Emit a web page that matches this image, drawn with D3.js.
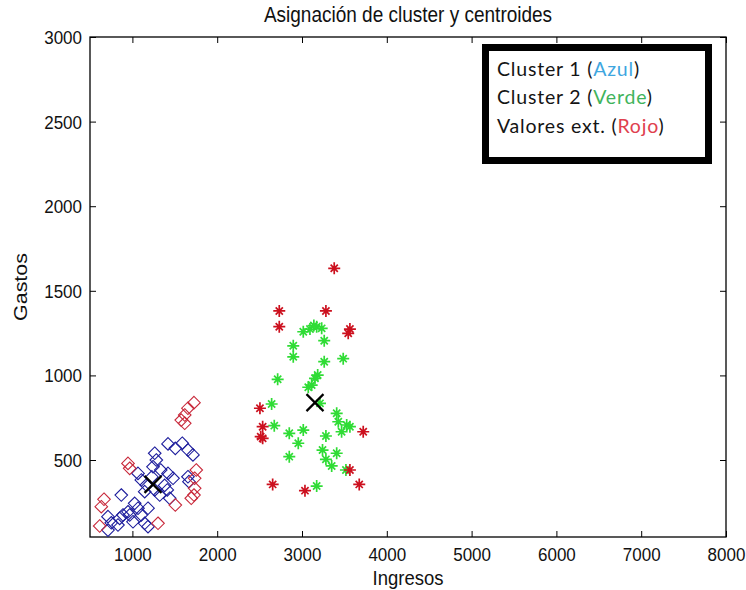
<!DOCTYPE html>
<html>
<head>
<meta charset="utf-8">
<script src="https://cdn.jsdelivr.net/npm/d3@7"></script>
<style>
  body { margin: 0; background: #fff; }
  svg { display: block; }
</style>
</head>
<body>
<script>
// Cluster 1 (blue diamonds)
const c1X = [1420, 1506, 1588, 1655, 1714, 1263, 1282, 1243, 1334, 1420, 1479, 1655, 1667, 1066, 1105, 1164, 1145, 1263, 1322, 1411, 1440, 869, 1027, 1066, 1184, 948, 968, 889, 850, 712, 751, 830, 712, 1145, 1184, 1007, 1105, 1380, 1230];
const c1Y = [595, 569, 599, 559, 530, 540, 500, 460, 441, 421, 392, 401, 372, 421, 382, 352, 313, 323, 293, 323, 274, 293, 244, 215, 215, 194, 175, 175, 155, 165, 129, 116, 86, 126, 106, 135, 175, 350, 400];
// Cluster 1 outliers (red diamonds)
const o1X = [1726, 1655, 1617, 1576, 1617, 948, 968, 1753, 1734, 1734, 1726, 1694, 1506, 665, 633, 614, 1302];
const o1Y = [839, 806, 766, 736, 717, 480, 451, 441, 392, 333, 293, 274, 234, 268, 224, 110, 126];
// Cluster 2 (green stars)
const c2X = [3015, 3094, 3173, 3232, 3140, 3262, 2897, 2897, 3262, 3486, 2713, 3185, 3153, 3114, 3074, 2642, 3212, 3409, 3428, 3527, 3467, 3565, 2673, 2850, 3015, 2956, 3282, 2850, 3242, 3409, 3282, 3350, 3518, 3173];
const c2Y = [1258, 1274, 1288, 1278, 1295, 1205, 1175, 1110, 1081, 1099, 977, 1002, 983, 943, 930, 831, 835, 776, 726, 707, 667, 697, 703, 658, 677, 599, 642, 520, 559, 540, 504, 465, 441, 346];
// Cluster 2 outliers (red stars)
const o2X = [3380, 2732, 3282, 2732, 3565, 3545, 2504, 2536, 2536, 2513, 3722, 3565, 2654, 3035, 3675];
const o2Y = [1633, 1381, 1381, 1288, 1274, 1249, 806, 697, 628, 638, 667, 441, 356, 319, 356];
// Centroids
const centX = [1243, 3153];
const centY = [356, 839];

const xTicks = [1000, 2000, 3000, 4000, 5000, 6000, 7000, 8000];
const yTicks = [500, 1000, 1500, 2000, 2500, 3000];

const legendRows = [
  { label: "Cluster 1 (", word: "Azul", color: "#3ea6df" },
  { label: "Cluster 2 (", word: "Verde", color: "#3fb45c" },
  { label: "Valores ext. (", word: "Rojo", color: "#e0404e" }
];

const width = 746, height = 590;
const plotLeft = 90, plotRight = 726, plotTop = 37, plotBottom = 537;
const stretch = 1.13; // the source text is a bit taller than it is wide

const svg = d3.select("body").append("svg")
    .attr("width", width)
    .attr("height", height)
    .style("font-family", "'Liberation Sans', Arial, sans-serif");

svg.append("rect").attr("width", width).attr("height", height).attr("fill", "#fff");

const x = d3.scaleLinear().domain([500, 8000]).range([plotLeft, plotRight]);
const y = d3.scaleLinear().domain([45, 3000]).range([plotBottom, plotTop]);

// Axes (ticks pointing inward, box all round)
const styleAxis = g => {
  g.select(".domain").remove();
  g.selectAll(".tick line").attr("stroke", "#000");
  g.selectAll(".tick text").attr("fill", "#111").style("font-size", "17px");
};

svg.append("g")
    .attr("transform", `translate(0,${plotBottom})`)
    .call(d3.axisBottom(x).tickValues(xTicks).tickSize(-6).tickPadding(8).tickFormat(d3.format("d")))
    .call(styleAxis)
    .call(g => g.selectAll(".tick text").attr("y", 0).attr("dy", 0)
        .attr("transform", `translate(0,24) scale(1,${stretch})`));
svg.append("g")
    .attr("transform", `translate(0,${plotTop})`)
    .call(d3.axisTop(x).tickValues(xTicks).tickSize(-6).tickFormat(""))
    .call(styleAxis);
svg.append("g")
    .attr("transform", `translate(${plotLeft},0)`)
    .call(d3.axisLeft(y).tickValues(yTicks).tickSize(-6).tickPadding(8).tickFormat(d3.format("d")))
    .call(styleAxis)
    .call(g => g.selectAll(".tick text").attr("dy", 0)
        .attr("transform", `translate(0,6.5) scale(1,${stretch})`));
svg.append("g")
    .attr("transform", `translate(${plotRight},0)`)
    .call(d3.axisRight(y).tickValues(yTicks).tickSize(-6).tickFormat(""))
    .call(styleAxis);

svg.append("rect")
    .attr("x", plotLeft).attr("y", plotTop)
    .attr("width", plotRight - plotLeft).attr("height", plotBottom - plotTop)
    .attr("fill", "none").attr("stroke", "#000").attr("stroke-width", 1.3);

// Markers
const diamond = "M0,-6.3L6.3,0L0,6.3L-6.3,0Z";
const star = "M-6,0H6M0,-6V6M-3.6,-3.6L3.6,3.6M-3.6,3.6L3.6,-3.6";

const plot = svg.append("g");

function drawSet(xs, ys, path, color, sw) {
  plot.append("g")
    .selectAll("path")
    .data(d3.range(xs.length))
    .join("path")
      .attr("transform", i => `translate(${x(xs[i])},${y(ys[i])})`)
      .attr("d", path)
      .attr("fill", "none")
      .attr("stroke", color)
      .attr("stroke-width", sw);
}

drawSet(c1X, c1Y, diamond, "#1c1c9c", 1.1);
drawSet(o1X, o1Y, diamond, "#c8283a", 1.1);
drawSet(c2X, c2Y, star, "#2fdc35", 1.7);
drawSet(o2X, o2Y, star, "#cc101e", 1.7);
drawSet(centX, centY, "M-8.5,-8.5L8.5,8.5M-8.5,8.5L8.5,-8.5", "#000", 2.2);

// Title and axis labels
svg.append("text")
    .attr("transform", `translate(${(plotLeft + plotRight) / 2 + 0},22) scale(1,${stretch})`)
    .attr("text-anchor", "middle")
    .style("font-size", "19px").attr("fill", "#111")
    .text("Asignación de cluster y centroides");
svg.append("text")
    .attr("transform", `translate(${(plotLeft + plotRight) / 2},585) scale(1,${stretch})`)
    .attr("text-anchor", "middle")
    .style("font-size", "18.5px").attr("fill", "#111")
    .text("Ingresos");
svg.append("text")
    .attr("transform", `translate(27,${(plotTop + plotBottom) / 2}) rotate(-90) scale(${stretch},1)`)
    .attr("text-anchor", "middle")
    .style("font-size", "19px").attr("fill", "#111")
    .text("Gastos");

// Legend box
const lg = svg.append("g").attr("transform", "translate(482,44)");
lg.append("rect")
    .attr("x", 3.5).attr("y", 3.5)
    .attr("width", 223).attr("height", 113)
    .attr("fill", "#fff").attr("stroke", "#000").attr("stroke-width", 7);

const lt = lg.selectAll("text")
  .data(legendRows)
  .join("text")
    .attr("x", 15)
    .attr("y", (d, i) => 31.5 + i * 28.5)
    .style("font-family", "Lato, 'Open Sans', sans-serif")
    .style("font-size", "19.5px")
    .style("letter-spacing", "0.8px")
    .attr("fill", "#141414");
lt.append("tspan").text(d => d.label);
lt.append("tspan").attr("fill", d => d.color).text(d => d.word);
lt.append("tspan").text(")");
</script>
</body>
</html>
